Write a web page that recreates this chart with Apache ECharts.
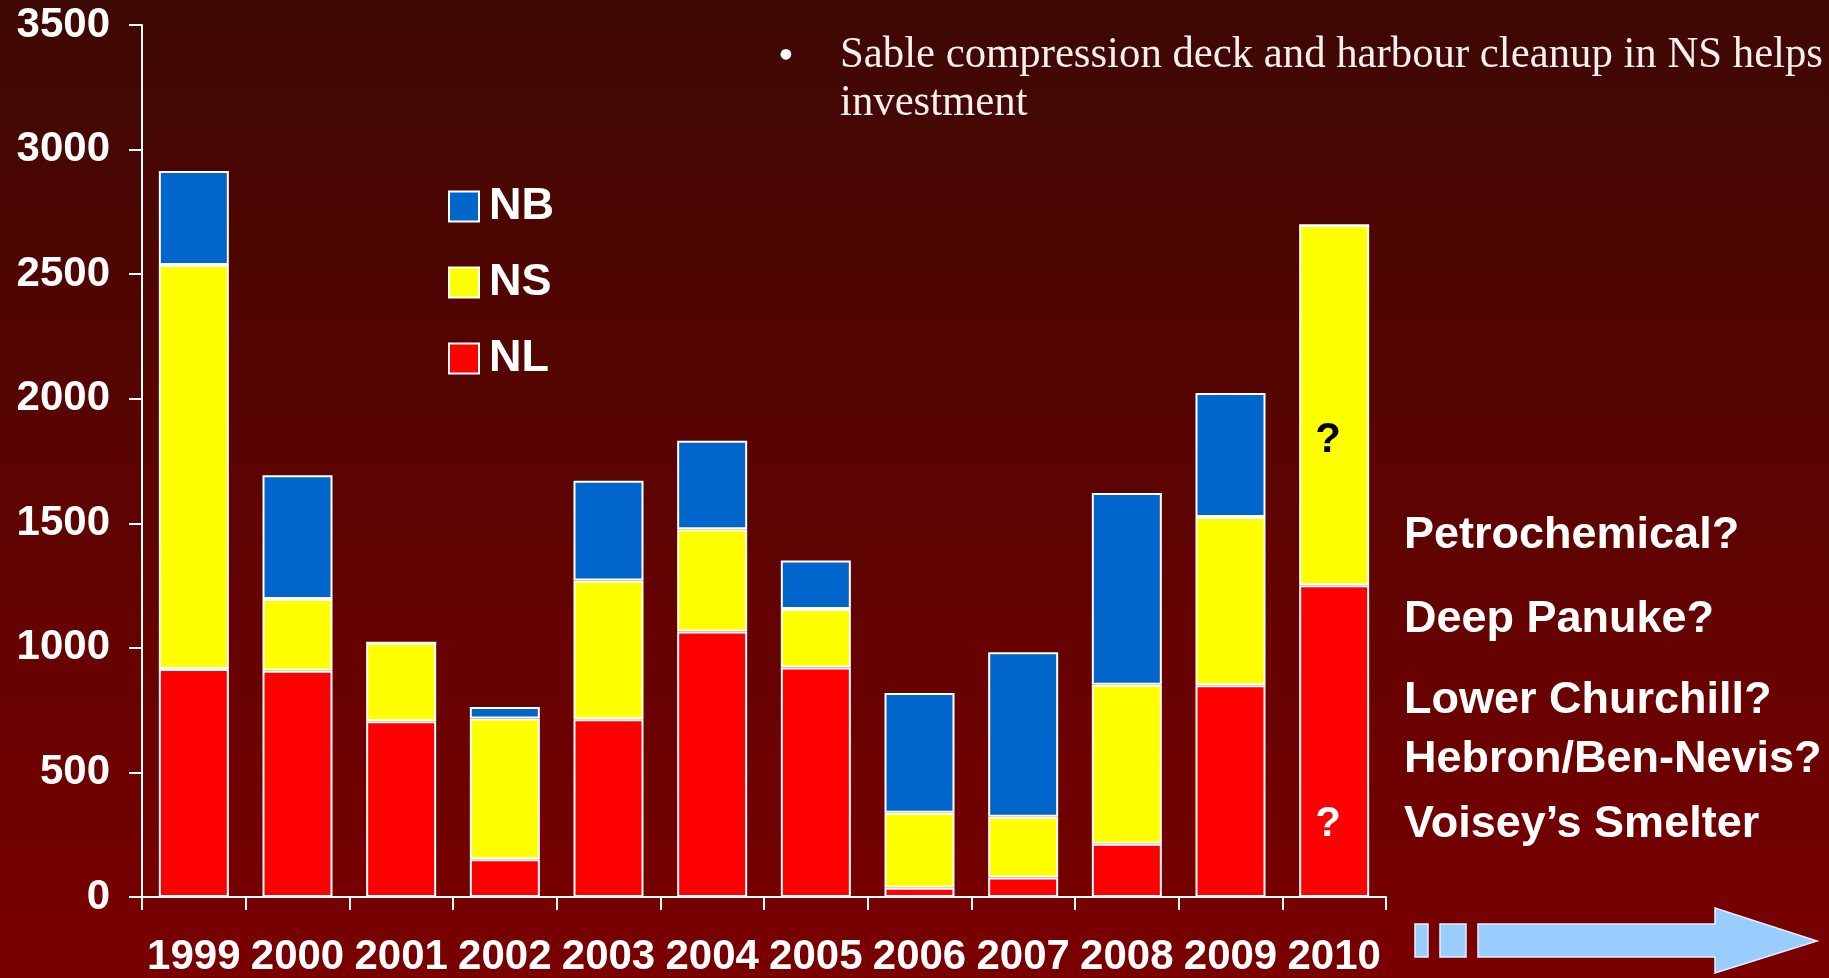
<!DOCTYPE html>
<html>
<head>
<meta charset="utf-8">
<script src="https://cdn.jsdelivr.net/npm/echarts@6/dist/echarts.min.js"></script>
<style>
  html, body { margin: 0; padding: 0; }
  #chart { width: 1829px; height: 978px; }
</style>
</head>
<body>
<div id="chart"></div>
<script>
// data
const years = ['1999', '2000', '2001', '2002', '2003', '2004', '2005', '2006', '2007', '2008', '2009', '2010']
const nl = [915, 908, 705, 152, 713, 1066, 921, 37, 78, 214, 850, 1251]
const ns = [1622, 288, 316, 564, 557, 410, 235, 301, 244, 638, 675, 1445]
const nb = [377, 497, 0, 47, 401, 355, 195, 481, 660, 770, 498, 0]
const yTicks = [0, 500, 1000, 1500, 2000, 2500, 3000, 3500]
const unknownNS = [['2010', 1833]]
const unknownNL = [['2010', 291]]
const projects = ['Petrochemical?', 'Deep Panuke?', 'Lower Churchill?', 'Hebron/Ben-Nevis?', 'Voisey’s Smelter']
const bulletText = ['Sable compression deck and harbour cleanup in NS helps', 'investment']

const sansBold = { fontFamily: '"Liberation Sans", Arial, sans-serif', fontWeight: 'bold', color: '#fff' }
const serif = '"Liberation Serif", "Times New Roman", serif'
const projectY = [536, 620, 701, 760, 825]
const bulletY = [55.5, 103]
const arrowColor = '#99ccff'

const chart = echarts.init(document.getElementById('chart'), null, { renderer: 'canvas' })

const barStyle = (color) => ({ color, borderColor: '#fff', borderWidth: 2 })
const qLabel = (color) => ({
  show: true, position: 'inside', formatter: '?', offset: [-6, 0], opacity: 1,
  fontFamily: sansBold.fontFamily, fontWeight: 'bold', fontSize: 42, color,
})

chart.setOption({
  animation: false,
  backgroundColor: new echarts.graphic.LinearGradient(0, 0, 0, 1, [
    { offset: 0, color: '#3e0803' },
    { offset: 1, color: '#7a0000' },
  ]),
  grid: { left: 142, right: 443, top: 25, bottom: 79 },
  legend: {
    data: ['NB', 'NS', 'NL'],
    orient: 'vertical',
    left: 443,
    top: 179,
    itemWidth: 30,
    itemHeight: 30,
    itemGap: 31,
    icon: 'rect',
    itemStyle: { borderColor: '#fff', borderWidth: 2 },
    textStyle: { ...sansBold, fontSize: 45, lineHeight: 30, padding: [0, 0, 0, 5] },
  },
  xAxis: {
    type: 'category',
    data: years,
    axisLine: { lineStyle: { color: '#fff', width: 2 } },
    axisTick: { show: true, length: 13, lineStyle: { color: '#fff', width: 2 } },
    axisLabel: { ...sansBold, fontSize: 42, margin: 39, interval: 0 },
  },
  yAxis: {
    type: 'value',
    min: yTicks[0],
    max: yTicks[yTicks.length - 1],
    interval: 500,
    axisLine: { show: true, lineStyle: { color: '#fff', width: 2 } },
    axisTick: { show: true, length: 13, lineStyle: { color: '#fff', width: 2 } },
    axisLabel: { ...sansBold, fontSize: 42, margin: 32, formatter: (v) => String(v) },
    splitLine: { show: false },
  },
  series: [
    { name: 'NL', type: 'bar', stack: 'total', barWidth: 70, data: nl, itemStyle: barStyle('#ff0000') },
    { name: 'NS', type: 'bar', stack: 'total', barWidth: 70, data: ns, itemStyle: barStyle('#ffff00') },
    { name: 'NB', type: 'bar', stack: 'total', barWidth: 70, data: nb, itemStyle: barStyle('#0066cc') },
    {
      name: 'ns-q', type: 'scatter', data: unknownNS, symbolSize: 1, z: 5, silent: true,
      itemStyle: { color: '#ffff00' }, label: qLabel('#000000'),
    },
    {
      name: 'nl-q', type: 'scatter', data: unknownNL, symbolSize: 1, z: 5, silent: true,
      itemStyle: { color: '#ff0000' }, label: qLabel('#ffffff'),
    },
  ],
  graphic: [
    // bullet text at the top
    { type: 'text', x: 778, y: 57, style: { text: '•', fontFamily: serif, fontSize: 45, fill: '#fff', verticalAlign: 'middle' } },
    ...bulletText.map((t, i) => ({
      type: 'text', x: 840, y: bulletY[i], scaleX: 0.95,
      style: { text: t, fontFamily: serif, fontSize: 45, fill: '#f4f0f0', verticalAlign: 'middle' },
    })),
    // project list on the right
    ...projects.map((t, i) => ({
      type: 'text', x: 1404, y: projectY[i],
      style: { text: t, fontFamily: sansBold.fontFamily, fontWeight: 'bold', fontSize: 45, fill: '#fff', verticalAlign: 'middle' },
    })),
    // arrow pointing right
    { type: 'rect', shape: { x: 1415, y: 924, width: 13, height: 33 }, style: { fill: arrowColor, stroke: '#e8f0ff', lineWidth: 1.5 } },
    { type: 'rect', shape: { x: 1440, y: 924, width: 26, height: 33 }, style: { fill: arrowColor, stroke: '#e8f0ff', lineWidth: 1.5 } },
    {
      type: 'polygon',
      shape: { points: [[1478, 924], [1715, 924], [1715, 908], [1817, 941], [1715, 973], [1715, 957], [1478, 957]] },
      style: { fill: arrowColor, stroke: '#e8f0ff', lineWidth: 1.5 },
    },
  ],
})
</script>
</body>
</html>
